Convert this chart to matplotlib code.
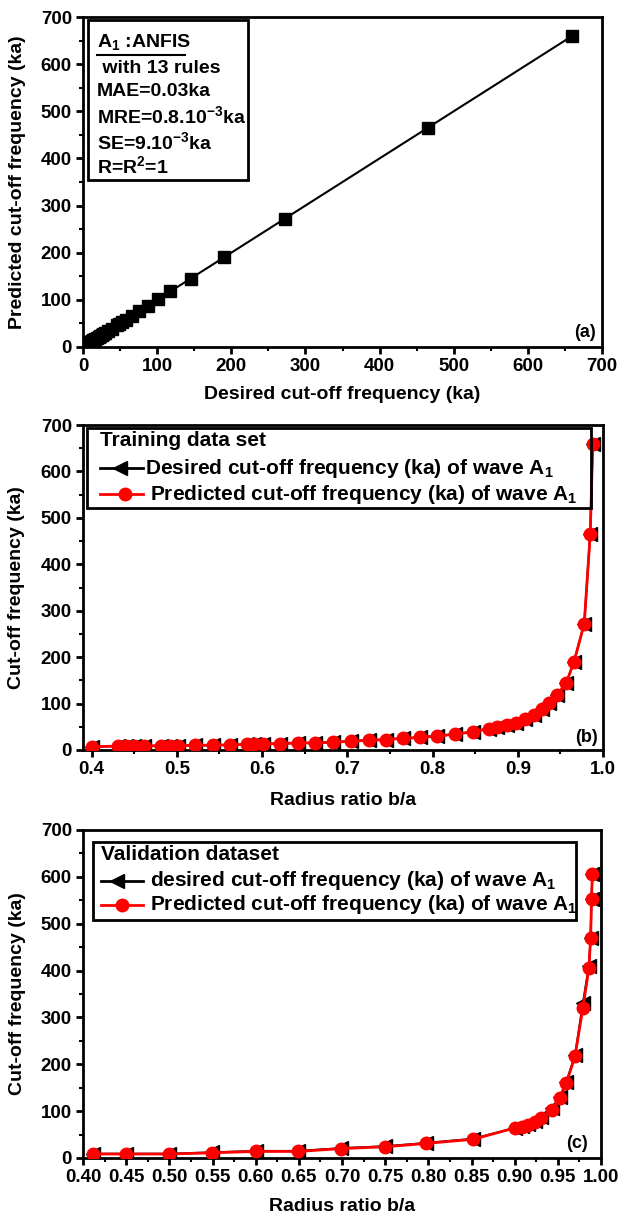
import matplotlib
matplotlib.use('Agg')
import matplotlib.pyplot as plt
from matplotlib.ticker import MultipleLocator, FormatStrFormatter
from matplotlib.lines import Line2D
from matplotlib.patches import Rectangle

plt.rcParams['font.family'] = ['Liberation Sans', 'DejaVu Sans']
plt.rcParams['font.weight'] = 'bold'
plt.rcParams['mathtext.fontset'] = 'custom'
plt.rcParams['mathtext.rm'] = 'Liberation Sans:bold'
plt.rcParams['mathtext.it'] = 'Liberation Sans:bold'
plt.rcParams['mathtext.bf'] = 'Liberation Sans:bold'

# ---------------- data ----------------
# Panel (b): training data set
ratio_train = [0.401, 0.431, 0.440, 0.450, 0.461, 0.481, 0.492, 0.501, 0.521, 0.542,
               0.563, 0.582, 0.591, 0.601, 0.621, 0.642, 0.662, 0.683, 0.704, 0.725,
               0.745, 0.765, 0.785, 0.805, 0.826, 0.847, 0.866, 0.876, 0.887, 0.898,
               0.909, 0.919, 0.928, 0.937, 0.946, 0.957, 0.966, 0.978, 0.985, 0.988]
desired_train = [7, 8.5, 8.5, 8.5, 9, 9, 9.5, 9.5, 10, 10.5,
                 11, 12, 12.5, 13, 14, 15, 15.5, 16.5, 19, 21,
                 22.5, 25, 27, 30, 34, 39, 46, 49, 53, 58,
                 66, 76, 88, 101, 118, 145, 190, 272, 465, 660]
predicted_train = [7, 8.5, 8.5, 8.5, 9, 9, 9.5, 9.5, 10, 10.5,
                   11, 12, 12.5, 13, 14, 15, 15.5, 16.5, 19, 21,
                   22.5, 25, 27, 30, 34, 39, 46, 49, 53, 58,
                   66, 76, 88, 101, 118, 145, 190, 272, 465, 660]

# Panel (c): validation data set
ratio_val = [0.412, 0.450, 0.500, 0.549, 0.600, 0.649, 0.699, 0.750, 0.797, 0.852,
             0.900, 0.908, 0.915, 0.923, 0.931, 0.943, 0.952, 0.960, 0.970, 0.979,
             0.986, 0.988, 0.989, 0.990]
desired_val = [9, 9, 9, 12, 15, 15, 21, 25, 32, 41,
               64, 68, 72, 79, 88, 106, 130, 163, 220, 330,
               410, 470, 552, 607]
predicted_val = [8.5, 8.5, 8.5, 11, 14, 14, 20, 24, 31, 40,
                 64, 67, 71, 77, 86, 103, 127, 160, 218, 320,
                 405, 470, 553, 607]

# Panel (a): desired vs predicted
desired_a = desired_train
predicted_a = predicted_train

W, H = 621, 1218
fig = plt.figure(figsize=(W / 100, H / 100), dpi=100)


def px_axes(left, top, right, bottom):
    return fig.add_axes([left / W, 1 - bottom / H, (right - left) / W, (bottom - top) / H])


def style(ax):
    for s in ax.spines.values():
        s.set_linewidth(2)
    ax.tick_params(which='major', direction='out', length=5, width=2, labelsize=13.5,
                   pad=3, top=False, right=False)
    ax.tick_params(which='minor', direction='out', length=3, width=1.5,
                   top=False, right=False)
    for lab in ax.get_xticklabels() + ax.get_yticklabels():
        lab.set_fontweight('bold')


# ---------------- panel (a) ----------------
ax1 = px_axes(83, 17, 602, 347)
ax1.plot(desired_a, predicted_a, color='black', lw=1.5, marker='s', ms=8.5, mfc='black', mec='black')
ax1.set_xlim(0, 700)
ax1.set_ylim(0, 700)
ax1.xaxis.set_major_locator(MultipleLocator(100))
ax1.xaxis.set_minor_locator(MultipleLocator(50))
ax1.yaxis.set_major_locator(MultipleLocator(100))
ax1.yaxis.set_minor_locator(MultipleLocator(50))
style(ax1)
ax1.set_xlabel('Desired cut-off frequency (ka)', fontsize=14, fontweight='bold', va='center')
ax1.xaxis.set_label_coords(0.5, -0.145)
ax1.set_ylabel('Predicted cut-off frequency (ka)', fontsize=14, fontweight='bold', va='center')
ax1.yaxis.set_label_coords(-0.127, 0.5)
ax1.add_patch(Rectangle((0.0096, 0.506), 0.308, 0.485, transform=ax1.transAxes,
                        fill=False, lw=2, ec='black', zorder=5))
box_lines = [(r'A$_{1}$ :ANFIS', 0.027, 0.924),
             (' with 13 rules', 0.027, 0.845),
             ('MAE=0.03ka', 0.027, 0.773),
             (r'MRE=0.8.10$^{-3}$ka', 0.027, 0.700),
             (r'SE=9.10$^{-3}$ka', 0.027, 0.621),
             (r'R=R$^{2}$=1', 0.027, 0.548)]
for txt, x, y in box_lines:
    ax1.text(x, y, txt, transform=ax1.transAxes, fontsize=14, fontweight='bold',
             ha='left', va='center', zorder=6)
ax1.add_line(Line2D([0.027, 0.197], [0.886, 0.886], transform=ax1.transAxes,
                    color='black', lw=1.5, zorder=6))
ax1.text(0.988, 0.045, '(a)', transform=ax1.transAxes, fontsize=13, fontweight='bold',
         ha='right', va='center')

# ---------------- panel (b) ----------------
ax2 = px_axes(83, 425, 603, 750)
ax2.plot(ratio_train, desired_train, color='black', lw=1.5, marker='<', ms=10,
         mfc='black', mec='black', zorder=3)
ax2.plot(ratio_train, predicted_train, color='red', lw=2, marker='o', ms=9,
         mfc='red', mec='red', zorder=4)
ax2.set_xlim(0.39, 1.0)
ax2.set_ylim(0, 700)
ax2.xaxis.set_major_locator(MultipleLocator(0.1))
ax2.xaxis.set_minor_locator(MultipleLocator(0.05))
ax2.xaxis.set_major_formatter(FormatStrFormatter('%.1f'))
ax2.yaxis.set_major_locator(MultipleLocator(100))
ax2.yaxis.set_minor_locator(MultipleLocator(50))
style(ax2)
ax2.set_xlabel('Radius ratio b/a', fontsize=14, fontweight='bold', va='center')
ax2.xaxis.set_label_coords(0.5, -0.154)
ax2.set_ylabel('Cut-off frequency (ka)', fontsize=14, fontweight='bold', va='center')
ax2.yaxis.set_label_coords(-0.127, 0.5)
ax2.text(0.99, 0.04, '(b)', transform=ax2.transAxes, fontsize=13, fontweight='bold',
         ha='right', va='center')


def legend_box(ax, l, t, r, b, title, lab1, lab2, rows, hx, mk1, mk2, tx):
    inv = ax.transAxes.inverted()

    def ac(px, py):
        return inv.transform((px, H - py))
    (al, ab) = ac(l, b)
    (ar, at) = ac(r, t)
    ax.add_patch(Rectangle((al, ab), ar - al, at - ab, transform=ax.transAxes, fill=False,
                           lw=2, ec='black', zorder=6, clip_on=False))
    ty = ac(0, rows[0])[1]
    ax.text(ac(hx[0], 0)[0], ty, title, transform=ax.transAxes, fontsize=15,
            fontweight='bold', ha='left', va='center', zorder=7)
    for (y, col, mk, mx, ms) in [(rows[1], 'black', '<', mk1, 10),
                                 (rows[2], 'red', 'o', mk2, 9)]:
        yy = ac(0, y)[1]
        ax.add_line(Line2D([ac(hx[0], 0)[0], ac(hx[1], 0)[0]], [yy, yy], transform=ax.transAxes,
                           color=col, lw=2, zorder=7, clip_on=False))
        ax.add_line(Line2D([ac(mx, 0)[0]], [yy], transform=ax.transAxes, color=col, marker=mk,
                           ms=ms, mfc=col, mec=col, zorder=8, clip_on=False))
    ax.text(ac(tx[0], 0)[0], ac(0, rows[1])[1], lab1, transform=ax.transAxes, fontsize=15,
            fontweight='bold', ha='left', va='center', zorder=7)
    ax.text(ac(tx[1], 0)[0], ac(0, rows[2])[1], lab2, transform=ax.transAxes, fontsize=15,
            fontweight='bold', ha='left', va='center', zorder=7)


# ---------------- panel (c) ----------------
ax3 = px_axes(83, 830, 601, 1158)
ax3.plot(ratio_val, desired_val, color='black', lw=1.5, marker='<', ms=10,
         mfc='black', mec='black', zorder=3)
ax3.plot(ratio_val, predicted_val, color='red', lw=2, marker='o', ms=9,
         mfc='red', mec='red', zorder=4)
ax3.set_xlim(0.40, 1.00)
ax3.set_ylim(0, 700)
ax3.xaxis.set_major_locator(MultipleLocator(0.05))
ax3.xaxis.set_minor_locator(MultipleLocator(0.025))
ax3.xaxis.set_major_formatter(FormatStrFormatter('%.2f'))
ax3.yaxis.set_major_locator(MultipleLocator(100))
ax3.yaxis.set_minor_locator(MultipleLocator(50))
style(ax3)
ax3.set_xlabel('Radius ratio b/a', fontsize=14, fontweight='bold', va='center')
ax3.xaxis.set_label_coords(0.5, -0.149)
ax3.set_ylabel('Cut-off frequency (ka)', fontsize=14, fontweight='bold', va='center')
ax3.yaxis.set_label_coords(-0.127, 0.5)
ax3.text(0.975, 0.045, '(c)', transform=ax3.transAxes, fontsize=13, fontweight='bold',
         ha='right', va='center')

legend_box(ax2, 87, 428, 591, 508, 'Training data set',
           r'Desired cut-off frequency (ka) of wave A$_{1}$',
           r'Predicted cut-off frequency (ka) of wave A$_{1}$',
           (441, 468, 494), (100, 143), 120, 125, (145, 150))
legend_box(ax3, 93, 842, 576, 920, 'Validation dataset',
           r'desired cut-off frequency (ka) of wave A$_{1}$',
           r'Predicted cut-off frequency (ka) of wave A$_{1}$',
           (855, 881, 905), (101, 143), 117, 122, (150, 150))

fig.savefig('out.png', dpi=100)
